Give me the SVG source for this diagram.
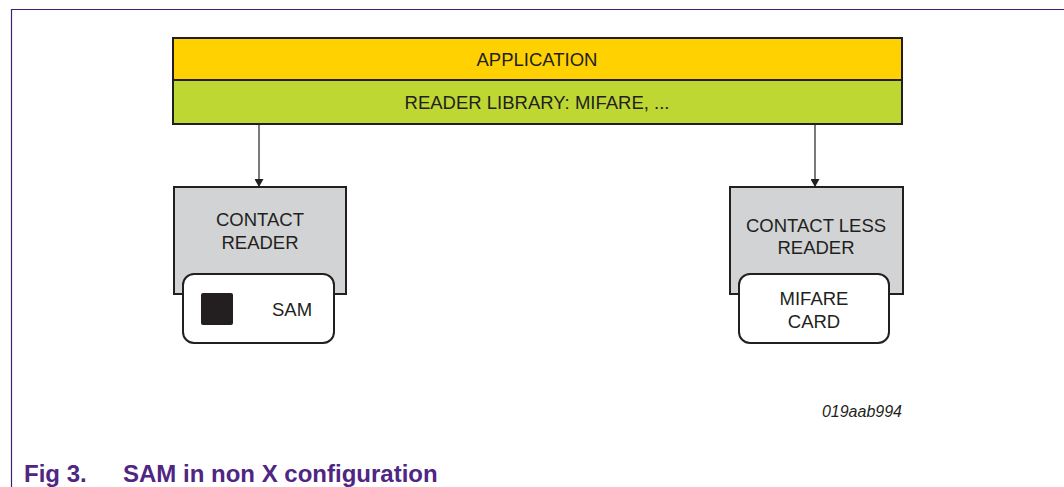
<svg xmlns="http://www.w3.org/2000/svg" width="1064" height="487" viewBox="0 0 1064 487">
<style>
.t{font-family:"Liberation Sans",Arial,sans-serif;font-size:18.5px;fill:#231f20;text-anchor:middle}
.box{stroke:#231f20;stroke-width:2}
.rd{fill:#d1d3d4}
.cd{fill:#ffffff}
.cap{font-family:"Liberation Sans",Arial,sans-serif;font-size:24px;font-weight:bold;fill:#4f2683}
.ln{stroke:#231f20;stroke-width:1.2;fill:none}
</style>
<defs>
<marker id="ah" markerWidth="8" markerHeight="9" refX="8" refY="4.5" orient="auto" markerUnits="userSpaceOnUse">
<path d="M0,0 L8,4.5 L0,9 Z" fill="#231f20"/>
</marker>
</defs>
<rect width="1064" height="487" fill="#ffffff"/>
<g id="frame">
<path d="M11.5,487 V9.5 H1064" fill="none" stroke="#3f1f73" stroke-width="1.2"/>
</g>
<g id="application">
<rect class="box" x="173" y="38" width="729" height="42" fill="#ffd100"/>
<text class="t" x="537" y="66">APPLICATION</text>
</g>
<g id="reader-library">
<rect class="box" x="173" y="80" width="729" height="44" fill="#bed732"/>
<text class="t" x="537" y="109">READER LIBRARY: MIFARE, ...</text>
</g>
<g id="connectors">
<line class="ln" x1="259" y1="125" x2="259" y2="187" marker-end="url(#ah)"/>
<line class="ln" x1="815" y1="125" x2="815" y2="187" marker-end="url(#ah)"/>
</g>
<g id="contact-reader">
<rect class="box rd" x="174" y="187" width="172" height="107"/>
<text class="t" x="260" y="226">CONTACT</text>
<text class="t" x="260" y="249">READER</text>
</g>
<g id="sam">
<rect class="box cd" x="183" y="274" width="151" height="69" rx="11"/>
<rect x="201" y="293" width="32" height="32" rx="2" fill="#231f20"/>
<text class="t" x="292" y="316">SAM</text>
</g>
<g id="contactless-reader">
<rect class="box rd" x="730" y="187" width="173" height="107"/>
<text class="t" x="816" y="232">CONTACT LESS</text>
<text class="t" x="816" y="254">READER</text>
</g>
<g id="mifare-card">
<rect class="box cd" x="739" y="274" width="150" height="69" rx="11"/>
<text class="t" x="814" y="305">MIFARE</text>
<text class="t" x="814" y="328">CARD</text>
</g>
<text x="902" y="417" font-family="Liberation Sans,Arial,sans-serif" font-size="16" font-style="italic" fill="#231f20" text-anchor="end">019aab994</text>
<text class="cap" x="24" y="482">Fig 3.</text>
<text class="cap" x="123" y="482">SAM in non X configuration</text>
</svg>
